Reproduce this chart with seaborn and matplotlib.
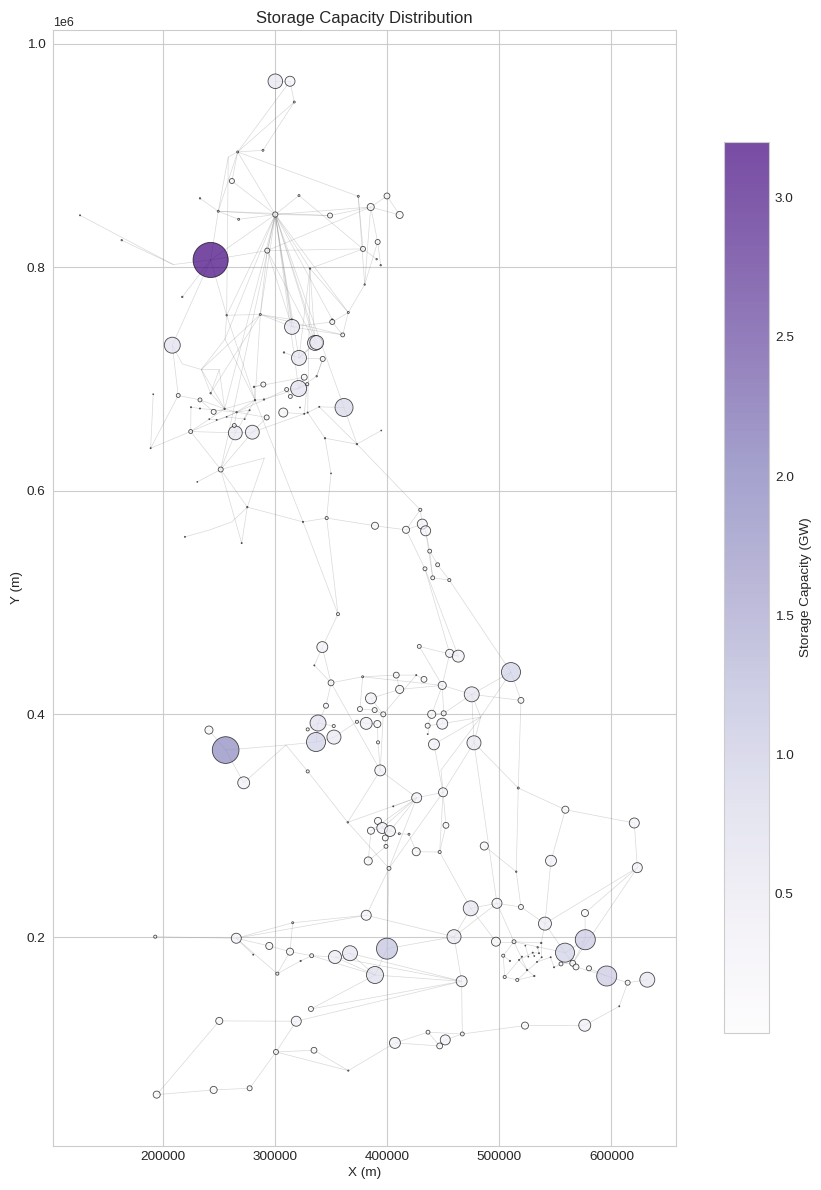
import matplotlib
matplotlib.use("Agg")
import matplotlib.pyplot as plt
from matplotlib.colors import Normalize
from matplotlib.cm import ScalarMappable
import numpy as np
import pandas as pd
import seaborn as sns

# Bus ids run 0..246; a few numbers are unused.
unused_ids = {148, 219, 243}
node_id = [i for i in range(247) if i not in unused_ids]

node_x_km = [
    300.2, 313.3, 317.1, 266.6, 289.2, 258.2, 261.5, 249.3, 233.0, 300.2,
    321.3, 349.0, 374.2, 385.3, 399.8, 411.1, 391.5, 378.4, 390.6, 394.2,
    293.0, 267.5, 126.0, 163.2, 209.2, 242.5, 217.2, 331.1, 379.9, 365.3,
    256.8, 286.8, 314.8, 351.0, 315.1, 351.0, 360.3, 208.3, 335.6, 337.1,
    321.3, 342.5, 307.9, 326.0, 337.1, 321.0, 328.7, 310.3, 313.6, 289.5,
    281.2, 213.6, 233.0, 242.5, 282.1, 290.1, 191.3, 245.2, 225.0, 233.0,
    255.0, 265.7, 277.3, 292.5, 307.3, 326.0, 329.1, 339.4, 361.5, 322.2,
    344.5, 373.0, 394.7, 264.5, 279.7, 263.6, 247.9, 241.3, 256.8, 272.9,
    224.7, 189.0, 251.5, 290.4, 230.6, 275.2, 219.6, 270.2, 324.9, 346.0,
    389.1, 416.8, 349.9, 429.5, 431.3, 434.3, 437.9, 445.0, 433.7, 440.6,
    455.4, 356.1, 342.1, 335.0, 349.9, 345.4, 338.3, 336.5, 352.5, 329.1,
    352.3, 241.0, 255.9, 272.0, 329.1, 378.1, 408.1, 425.9, 432.8, 411.1,
    449.1, 475.4, 510.4, 519.3, 428.6, 455.7, 463.4, 385.5, 375.7, 388.8,
    396.5, 439.7, 450.4, 373.0, 381.3, 391.2, 449.1, 436.1, 436.1, 391.8,
    441.7, 477.4, 393.8, 516.9, 449.8, 426.3, 452.4, 486.6, 558.9, 620.4,
    546.1, 623.1, 515.1, 364.8, 405.4, 391.8, 385.5, 395.6, 402.5, 398.3,
    410.8, 419.4, 398.9, 425.9, 446.8, 383.1, 401.6, 381.3, 474.5, 497.9,
    519.3, 576.4, 540.7, 459.6, 497.0, 513.1, 576.7, 399.8, 558.6, 366.8,
    389.1, 466.4, 503.5, 504.8, 516.0, 531.2, 524.7, 537.4, 534.2, 529.8,
    523.2, 535.4, 520.2, 525.9, 531.2, 537.8, 545.8, 517.6, 509.5, 533.6,
    548.8, 555.0, 565.5, 568.4, 580.0, 595.8, 614.5, 632.0, 607.0, 576.2,
    522.9, 193.1, 265.4, 294.8, 313.3, 315.7, 332.6, 353.4, 280.5, 322.8,
    302.0, 332.0, 318.9, 250.2, 300.8, 334.7, 365.3, 406.9, 436.4, 451.8,
    446.8, 467.0, 194.4, 245.2, 277.3, 255.3, 234.2, 250.2, 217.2, 261.5,
    241.0, 483.4, 309.7, 448.0,
]

node_y_km = [
    966.6, 966.6, 948.0, 903.3, 904.8, 898.8, 877.3, 850.2, 861.8, 847.3,
    864.3, 846.4, 863.6, 854.0, 863.9, 846.9, 822.7, 816.5, 807.3, 801.9,
    815.0, 843.0, 846.6, 824.3, 802.5, 806.6, 773.5, 798.9, 784.6, 759.6,
    757.1, 757.8, 753.3, 753.3, 746.7, 751.1, 739.5, 730.3, 732.3, 732.7,
    718.9, 718.0, 723.8, 701.6, 702.5, 691.5, 695.4, 690.6, 684.4, 695.1,
    693.0, 685.3, 681.3, 687.3, 681.1, 681.7, 686.4, 670.6, 674.8, 673.6,
    673.3, 670.3, 672.1, 665.6, 670.0, 668.8, 670.0, 675.1, 674.5, 674.5,
    647.0, 641.7, 653.9, 651.8, 652.4, 658.4, 663.4, 664.1, 666.1, 664.1,
    653.0, 638.1, 619.0, 629.2, 607.9, 585.3, 558.7, 553.1, 572.1, 575.5,
    568.6, 565.0, 615.5, 582.9, 570.1, 564.1, 545.9, 533.7, 530.1, 522.0,
    520.0, 489.5, 460.0, 443.6, 428.0, 407.5, 392.0, 375.0, 379.4, 386.3,
    389.3, 385.7, 367.8, 338.5, 348.7, 433.4, 434.9, 434.9, 431.1, 422.1,
    425.7, 417.7, 437.6, 412.3, 460.6, 454.4, 451.9, 414.1, 404.5, 403.6,
    399.8, 399.8, 400.7, 393.1, 391.7, 391.1, 391.4, 389.6, 382.1, 374.7,
    372.9, 374.3, 349.6, 333.8, 330.0, 325.1, 300.4, 281.9, 314.4, 302.5,
    268.7, 262.5, 258.9, 303.1, 317.4, 304.3, 295.6, 298.0, 295.3, 289.1,
    292.9, 292.4, 281.6, 276.8, 276.5, 268.5, 261.9, 219.9, 226.1, 230.6,
    227.3, 221.9, 212.4, 200.7, 196.2, 196.2, 198.0, 190.0, 186.4, 185.9,
    166.4, 160.8, 183.7, 164.6, 162.0, 165.5, 170.9, 195.1, 191.2, 186.4,
    192.7, 185.9, 182.8, 182.8, 183.4, 182.3, 182.3, 179.9, 179.0, 178.1,
    173.3, 176.3, 176.9, 173.6, 172.4, 165.5, 159.5, 162.2, 138.4, 121.4,
    121.1, 200.7, 199.3, 192.4, 187.3, 213.2, 183.7, 182.5, 184.6, 179.0,
    167.6, 136.0, 125.0, 125.3, 97.5, 99.0, 80.8, 105.6, 115.2, 108.3,
    102.9, 113.6, 59.3, 63.5, 65.0, 735.7, 708.5, 708.5, 713.6, 572.1,
    564.7, 397.3, 372.3, 349.9,
]

# A capacity of zero marks a bend in a line rather than a storage site.
node_cap_gw = [
    0.55, 0.26, 0.01, 0.01, 0.01, 0.0, 0.065, 0.01, 0.005, 0.07,
    0.01, 0.065, 0.01, 0.13, 0.09, 0.13, 0.065, 0.065, 0.005, 0.005,
    0.065, 0.01, 0.003, 0.005, 0.0, 3.2, 0.005, 0.005, 0.005, 0.01,
    0.005, 0.01, 0.005, 0.005, 0.58, 0.065, 0.04, 0.66, 0.58, 0.5,
    0.58, 0.065, 0.005, 0.09, 0.005, 0.66, 0.025, 0.04, 0.04, 0.065,
    0.005, 0.04, 0.04, 0.005, 0.005, 0.005, 0.002, 0.065, 0.003, 0.003,
    0.005, 0.005, 0.003, 0.065, 0.21, 0.003, 0.003, 0.003, 0.84, 0.002,
    0.005, 0.005, 0.002, 0.5, 0.5, 0.04, 0.003, 0.002, 0.002, 0.002,
    0.04, 0.003, 0.065, 0.0, 0.002, 0.005, 0.003, 0.003, 0.004, 0.025,
    0.13, 0.13, 0.002, 0.025, 0.26, 0.26, 0.04, 0.04, 0.04, 0.04,
    0.025, 0.025, 0.31, 0.003, 0.09, 0.065, 0.66, 0.94, 0.51, 0.025,
    0.025, 0.17, 1.85, 0.37, 0.025, 0.01, 0.09, 0.003, 0.09, 0.17,
    0.17, 0.58, 0.94, 0.09, 0.04, 0.17, 0.37, 0.31, 0.065, 0.065,
    0.065, 0.17, 0.065, 0.025, 0.37, 0.13, 0.31, 0.065, 0.002, 0.025,
    0.31, 0.51, 0.31, 0.01, 0.21, 0.26, 0.09, 0.17, 0.13, 0.26,
    0.31, 0.26, 0.005, 0.005, 0.003, 0.13, 0.13, 0.31, 0.31, 0.09,
    0.01, 0.01, 0.04, 0.17, 0.025, 0.17, 0.04, 0.26, 0.58, 0.26,
    0.065, 0.13, 0.44, 0.51, 0.21, 0.04, 1.04, 1.14, 0.94, 0.58,
    0.75, 0.31, 0.025, 0.025, 0.025, 0.005, 0.005, 0.005, 0.005, 0.003,
    0.002, 0.003, 0.003, 0.002, 0.002, 0.003, 0.003, 0.003, 0.004, 0.003,
    0.003, 0.04, 0.09, 0.09, 0.065, 1.04, 0.065, 0.58, 0.003, 0.37,
    0.13, 0.025, 0.26, 0.13, 0.13, 0.01, 0.04, 0.44, 0.003, 0.004,
    0.025, 0.065, 0.26, 0.13, 0.065, 0.09, 0.004, 0.31, 0.04, 0.26,
    0.09, 0.04, 0.13, 0.13, 0.065, 0.0, 0.0, 0.0, 0.0, 0.0,
    0.0, 0.0, 0.0, 0.0,
]

# Transmission corridors, each one a chain of bus ids.
north_links = [
    [0, 1], [0, 9], [1, 3], [1, 2, 3], [2, 4, 3], [3, 5, 7, 25], [3, 7], [3, 9], [3, 12],
    [5, 30], [3, 6, 9], [8, 7, 9], [7, 21, 9], [7, 11], [9, 10, 17], [9, 11, 13], [9, 13],
    [13, 14, 15, 13], [12, 28], [13, 28], [13, 16, 19], [16, 28], [17, 18], [17, 27], [12, 17],
    [20, 9], [20, 13], [20, 17], [20, 25], [20, 31], [20, 38], [20, 34], [22, 24, 25],
    [23, 24], [25, 26], [25, 30], [25, 9], [28, 29, 27], [29, 35, 36], [29, 36],
]
fan_links = [
    [9, 30], [9, 31], [9, 32], [9, 34], [9, 38], [9, 39], [9, 45], [9, 40], [9, 29], [9, 33],
    [9, 68], [9, 237], [27, 38], [27, 40], [27, 66], [27, 9], [9, 60], [9, 82],
]
upper_links = [
    [37, 240, 238, 239, 53], [37, 51], [37, 25], [238, 60], [239, 60], [238, 53], [30, 237, 238],
    [237, 54], [31, 238], [30, 31, 34, 36], [31, 36], [31, 32, 34], [34, 35], [30, 54], [31, 54],
    [31, 53, 60], [38, 39, 40, 41, 44], [42, 40], [40, 38], [45, 46], [47, 45, 44, 41], [46, 65],
    [49, 50, 54, 60], [54, 61], [54, 73], [54, 55, 45], [51, 52, 57, 60], [52, 60], [60, 61, 78],
    [58, 59, 61], [80, 58], [80, 60], [80, 61], [80, 73], [80, 82], [80, 81, 56], [81, 51],
    [82, 73], [82, 74], [82, 83], [82, 84], [74, 66], [63, 74], [64, 65, 66, 67, 68], [66, 70, 71],
    [67, 71], [68, 71, 72], [71, 93], [70, 92, 89], [89, 88, 85, 83], [85, 82], [85, 87], [85, 241, 242, 86],
    [82, 87], [54, 88, 101], [89, 101], [89, 90, 91, 93], [91, 94, 95], [93, 94], [91, 98], [75, 73],
    [76, 77], [76, 78, 79, 62, 61], [61, 63], [75, 61], [50, 43, 45], [47, 48], [61, 47], [73, 74],
]
central_links = [
    [98, 125], [98, 126], [95, 96, 97, 100], [96, 99, 100], [95, 99], [100, 122], [101, 102, 104, 105, 106, 107, 108],
    [102, 103, 104], [104, 115, 116, 117, 118], [104, 142], [115, 120], [115, 128, 129, 130, 127, 119, 120],
    [130, 117], [130, 142], [133, 134, 135, 139, 142], [130, 131, 132, 121], [120, 121, 122], [120, 125, 126],
    [124, 126], [124, 120], [121, 123, 122], [122, 244, 121], [141, 121], [141, 244], [140, 244], [136, 244],
    [131, 120], [131, 137, 136, 132, 120], [137, 138], [140, 144], [144, 246, 244], [141, 144], [141, 143],
    [123, 143], [108, 133], [112, 245, 107], [245, 113], [245, 114, 154], [111, 112, 113], [142, 145, 144],
    [106, 110], [106, 109], [116, 119], [141, 170], [142, 154],
]
south_links = [
    [143, 149, 150, 152], [149, 151, 173], [147, 153, 171, 173], [143, 153], [170, 171], [173, 152], [172, 152],
    [172, 177], [203, 152], [173, 179], [188, 173], [169, 170, 174], [169, 174], [169, 175], [170, 176],
    [175, 176], [165, 169], [144, 165], [144, 146, 165], [164, 165], [164, 162, 161, 159], [159, 160, 163, 166],
    [145, 154], [145, 155], [145, 157], [145, 158], [145, 159], [145, 167], [144, 167], [167, 168], [166, 157],
    [167, 178], [154, 167], [158, 159], [157, 158], [156, 158], [168, 174], [174, 178], [174, 182], [181, 178],
    [180, 181, 182], [182, 218], [176, 188], [176, 179], [176, 183, 184], [176, 187, 186, 185, 184], [184, 193],
    [183, 199], [193, 198, 190, 192], [188, 196], [189, 192], [190, 195], [191, 194], [201, 202, 203, 204, 206],
    [205, 206, 207, 208], [207, 209, 210, 211], [179, 177, 203], [179, 203], [211, 233, 230, 232, 229, 230],
    [231, 232], [231, 233], [229, 228, 226], [228, 227, 226, 224, 225, 234, 235, 236, 226], [224, 182], [223, 182],
    [223, 181], [212, 213, 168], [213, 216, 168], [216, 215, 214, 213], [213, 222], [213, 220], [222, 215],
    [222, 221, 217], [215, 217, 218, 181], [217, 181], [180, 182], [218, 180], [182, 233], [185, 200, 196],
    [197, 201], [200, 197], [187, 198],
]

cap_floor = 0.0
cap_ceiling = 3.2
colour_ticks = [0.5, 1.0, 1.5, 2.0, 2.5, 3.0]

sns.set_style("whitegrid")
plt.rcParams["font.family"] = ["Liberation Sans", "DejaVu Sans"]

nodes = pd.DataFrame({"x": np.array(node_x_km) * 1000,
                      "y": np.array(node_y_km) * 1000,
                      "cap": node_cap_gw}, index=node_id)
sites = nodes[nodes["cap"] > 0]

fig = plt.figure(figsize=(8.21, 11.90), dpi=100)
ax = fig.add_axes([53 / 821, 1 - 1146 / 1190, 623 / 821, 1116 / 1190])
cax = fig.add_axes([724 / 821, 1 - 1033 / 1190, 45 / 821, 891 / 1190])

for chain in north_links + fan_links + upper_links + central_links + south_links:
    ax.plot(nodes.loc[chain, "x"], nodes.loc[chain, "y"], color="gray", lw=0.5, alpha=0.3, zorder=1)

norm = Normalize(cap_floor, cap_ceiling)
sns.scatterplot(data=sites, x="x", y="y", hue="cap", hue_norm=norm, palette="Purples",
                size="cap", size_norm=norm, sizes=(0, 640), alpha=0.7,
                edgecolor="black", linewidth=0.6, legend=False, ax=ax, zorder=2)

ax.set_xlim(101900, 657600)
ax.set_ylim(13300, 1012500)
ax.set_xticks([200000, 300000, 400000, 500000, 600000])
ax.set_yticks([200000, 400000, 600000, 800000, 1000000])
ax.tick_params(axis="x", labelsize=9.7, pad=0.2, colors="#262626")
ax.tick_params(axis="y", labelsize=9.7, pad=1.8, colors="#262626")
ax.yaxis.get_offset_text().set_fontsize(8.9)
ax.set_xlabel("X (m)", fontsize=9.7, labelpad=2.5)
ax.set_ylabel("Y (m)", fontsize=9.7, labelpad=3)
ax.set_title("Storage Capacity Distribution", fontsize=12, pad=5)

cbar = fig.colorbar(ScalarMappable(norm=norm, cmap="Purples"), cax=cax, alpha=0.7)
cbar.set_ticks(colour_ticks)
cax.grid(False)
cax.tick_params(labelsize=9.7, length=0, pad=4.2, colors="#262626")
cbar.set_label("Storage Capacity (GW)", fontsize=9.7, labelpad=4.5)

fig.savefig("out.png", dpi=100)
